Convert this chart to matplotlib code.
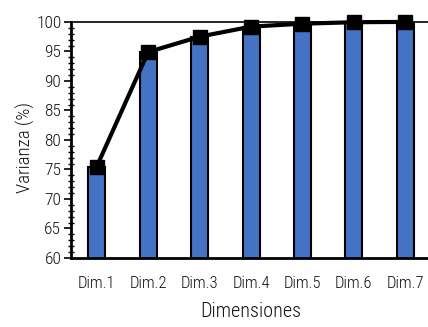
import matplotlib
matplotlib.use("Agg")
import matplotlib.pyplot as plt
from matplotlib.ticker import MultipleLocator

categories = ["Dim.1", "Dim.2", "Dim.3", "Dim.4", "Dim.5", "Dim.6", "Dim.7"]
cum_var = [75.5, 94.9, 97.5, 99.2, 99.7, 99.95, 100.0]
yticks = [60, 65, 70, 75, 80, 85, 90, 95, 100]

plt.rcParams["font.family"] = ["Roboto Condensed", "Archivo Narrow", "DejaVu Sans"]
plt.rcParams["font.weight"] = "light"

fig = plt.figure(figsize=(4.28, 3.27), dpi=100)
ax = fig.add_axes([0.166, 0.211, 0.841, 0.722])

x = list(range(len(categories)))
ax.bar(x, cum_var, width=0.33, color="#4472C4", edgecolor="black", linewidth=1.5, zorder=2)
ax.plot(x, cum_var, color="black", linewidth=3, marker="s", markersize=10, zorder=3, clip_on=False)

ax.set_xlim(-0.5, 6.5)
ax.set_ylim(60, 100)
ax.set_yticks(yticks)
ax.yaxis.set_minor_locator(MultipleLocator(1))
ax.set_xticks(x)
ax.set_xticklabels(categories, fontsize=12, color="#111111")
ax.tick_params(axis="x", length=0, pad=13)
ax.tick_params(axis="y", which="major", length=5, width=1.2, direction="out", labelsize=12.5, pad=2, labelcolor="#111111")
ax.tick_params(axis="y", which="minor", length=4, width=1, direction="inout")

ax.spines["right"].set_visible(False)
ax.spines["top"].set_linewidth(1.2)
ax.spines["left"].set_linewidth(2)
ax.spines["bottom"].set_linewidth(2)

ax.set_xlabel("Dimensiones", fontsize=14.5, labelpad=8, color="#111111", fontweight="light")
ax.set_ylabel("Varianza (%)", fontsize=13.5, color="#111111", fontweight="light")
ax.yaxis.set_label_coords(-0.10, 0.47)

fig.savefig("out.png", dpi=100)
